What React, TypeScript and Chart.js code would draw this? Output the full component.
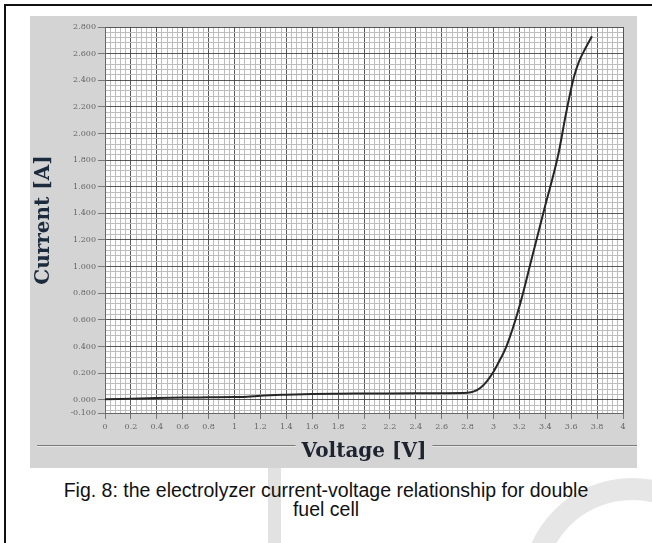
import React, { useEffect, useRef } from "react";
import { Chart, registerables } from "chart.js";

Chart.register(...registerables);

// ---- data ----
const voltage = [0, 0.2, 0.4, 0.6, 0.8, 1.0, 1.1, 1.2, 1.4, 1.6, 1.8, 2.0, 2.2, 2.4, 2.6, 2.8, 2.85, 2.9, 2.95, 3.0, 3.05, 3.1, 3.2, 3.3, 3.4, 3.5, 3.56, 3.62, 3.66, 3.71, 3.76];
const current = [0.003, 0.008, 0.013, 0.016, 0.018, 0.02, 0.022, 0.03, 0.038, 0.043, 0.045, 0.046, 0.047, 0.048, 0.049, 0.052, 0.062, 0.09, 0.14, 0.21, 0.30, 0.40, 0.70, 1.08, 1.46, 1.84, 2.15, 2.42, 2.54, 2.64, 2.73];

const xMajorTicks = [0, 0.2, 0.4, 0.6, 0.8, 1, 1.2, 1.4, 1.6, 1.8, 2, 2.2, 2.4, 2.6, 2.8, 3, 3.2, 3.4, 3.6, 3.8, 4];
const xTickLabels = ["0", "0.2", "0.4", "0.6", "0.8", "1", "1.2", "1.4", "1.6", "1.8", "2", "2.2", "2.4", "2.6", "2.8", "3", "3.2", "3.4", "3.6", "3.8", "4"];
const yMajorTicks = [-0.1, 0, 0.2, 0.4, 0.6, 0.8, 1.0, 1.2, 1.4, 1.6, 1.8, 2.0, 2.2, 2.4, 2.6, 2.8];
const yTickLabels = ["-0.100", "0.000", "0.200", "0.400", "0.600", "0.800", "1.000", "1.200", "1.400", "1.600", "1.800", "2.000", "2.200", "2.400", "2.600", "2.800"];
const minorDivisions = 5;

const X_MIN = 0, X_MAX = 4, Y_MIN = -0.1, Y_MAX = 2.8;

const r3 = (v: number) => Math.round(v * 1000) / 1000;

function buildTicks(majors: number[], lo: number, hi: number): number[] {
  const step = (majors[2] - majors[1]) / minorDivisions;
  const set = new Set<number>(majors.map(r3));
  const start = Math.ceil(lo / step - 1e-9);
  const end = Math.floor(hi / step + 1e-9);
  for (let i = start; i <= end; i++) set.add(r3(i * step));
  return Array.from(set).sort((a, b) => a - b);
}

const majorIndex = (majors: number[], v: number) => majors.findIndex((m) => Math.abs(m - v) < 1e-6);

const xAllTicks = buildTicks(xMajorTicks, X_MIN, X_MAX);
const yAllTicks = buildTicks(yMajorTicks, Y_MIN, Y_MAX);

const MAJOR_GRID = "rgba(60,60,60,0.85)";
const MINOR_GRID = "#bdbdbd";
const TICK_FONT = { family: "'DejaVu Serif', serif", size: 8 };
const TITLE_FONT = { family: "'DejaVu Serif', serif", size: 20, weight: "bold" };

export default function App() {
  const canvasRef = useRef<HTMLCanvasElement | null>(null);

  useEffect(() => {
    if (!canvasRef.current) return;

    const bgPlugin = {
      id: "plotBg",
      beforeDraw(chart: any) {
        const { ctx, chartArea } = chart;
        ctx.save();
        ctx.fillStyle = "#ffffff";
        ctx.fillRect(chartArea.left, chartArea.top, chartArea.right - chartArea.left, chartArea.bottom - chartArea.top);
        ctx.restore();
      },
      afterDraw(chart: any) {
        const { ctx, chartArea, width } = chart;
        const xs = chart.scales.x;
        const t = xs.options.title;
        ctx.save();
        ctx.font = `bold ${t.font.size}px ${t.font.family}`;
        const tw = ctx.measureText(t.text).width;
        const cx = (chartArea.left + chartArea.right) / 2;
        const y = 429.5;
        ctx.strokeStyle = "#7a7a7a";
        ctx.lineWidth = 1;
        ctx.beginPath();
        ctx.moveTo(7, y);
        ctx.lineTo(cx - tw / 2 - 6, y);
        ctx.moveTo(cx + tw / 2 + 6, y);
        ctx.lineTo(width, y);
        ctx.stroke();
        ctx.strokeStyle = "#e8e8e8";
        ctx.beginPath();
        ctx.moveTo(7, y + 1);
        ctx.lineTo(cx - tw / 2 - 6, y + 1);
        ctx.moveTo(cx + tw / 2 + 6, y + 1);
        ctx.lineTo(width, y + 1);
        ctx.stroke();
        ctx.restore();
      },
    };

    const chart = new Chart(canvasRef.current, {
      type: "line",
      data: {
        datasets: [
          {
            data: voltage.map((v, i) => ({ x: v, y: current[i] })),
            borderColor: "#262626",
            borderWidth: 2,
            pointRadius: 0,
            fill: false,
            cubicInterpolationMode: "monotone",
          },
        ],
      },
      options: {
        animation: false,
        responsive: true,
        maintainAspectRatio: false,
        layout: { padding: { left: 0, top: 11, right: 14, bottom: 0 } },
        plugins: { legend: { display: false }, tooltip: { enabled: false } },
        scales: {
          x: {
            type: "linear",
            min: X_MIN,
            max: X_MAX,
            afterBuildTicks: (scale: any) => {
              scale.ticks = xAllTicks.map((v) => ({ value: v }));
            },
            afterFit: (scale: any) => {
              scale.height = 55;
            },
            ticks: {
              autoSkip: false,
              maxRotation: 0,
              padding: 3,
              color: "#666",
              font: TICK_FONT,
              callback: (value: any) => {
                const i = majorIndex(xMajorTicks, Number(value));
                return i >= 0 ? xTickLabels[i] : "";
              },
            },
            grid: {
              drawTicks: true,
              tickLength: 6,
              color: (ctx: any) => (ctx.tick && majorIndex(xMajorTicks, ctx.tick.value) >= 0 ? MAJOR_GRID : MINOR_GRID),
              tickColor: (ctx: any) => (ctx.tick && majorIndex(xMajorTicks, ctx.tick.value) >= 0 ? "#777" : "rgba(0,0,0,0)"),
              lineWidth: 1,
            },
            border: { display: true, color: "#666" },
            title: {
              display: true,
              text: "Voltage [V]",
              color: "#1e2330",
              font: TITLE_FONT,
              padding: { top: 0, bottom: 4 },
            },
          },
          y: {
            type: "linear",
            min: Y_MIN,
            max: Y_MAX,
            afterBuildTicks: (scale: any) => {
              scale.ticks = yAllTicks.map((v) => ({ value: v }));
            },
            afterFit: (scale: any) => {
              scale.width = 75;
            },
            ticks: {
              autoSkip: false,
              padding: 2,
              color: "#666",
              font: TICK_FONT,
              callback: (value: any) => {
                const i = majorIndex(yMajorTicks, Number(value));
                return i >= 0 ? yTickLabels[i] : "";
              },
            },
            grid: {
              drawTicks: true,
              tickLength: 7,
              color: (ctx: any) => (ctx.tick && majorIndex(yMajorTicks, ctx.tick.value) >= 0 ? MAJOR_GRID : MINOR_GRID),
              tickColor: (ctx: any) => (ctx.tick && majorIndex(yMajorTicks, ctx.tick.value) >= 0 ? "#777" : "rgba(0,0,0,0)"),
              lineWidth: 1,
            },
            border: { display: true, color: "#666" },
            title: {
              display: true,
              text: "Current [A]",
              color: "#1b2a3c",
              font: TITLE_FONT,
              padding: { top: 2, bottom: 0 },
            },
          },
        },
      },
      plugins: [bgPlugin],
    } as any);

    return () => chart.destroy();
  }, []);

  return (
    <div
      style={{
        position: "absolute",
        left: 0,
        top: 0,
        width: 652,
        height: 543,
        background: "#ffffff",
        overflow: "hidden",
      }}
    >
      {/* watermark shapes */}
      <div style={{ position: "absolute", left: 268, top: 460, width: 13, height: 90, background: "#e2e2e2" }} />
      <div
        style={{
          position: "absolute",
          left: 522,
          top: 478,
          width: 220,
          height: 220,
          boxSizing: "border-box",
          border: "22px solid #e6e6e6",
          borderRadius: "50%",
        }}
      />
      {/* outer frame */}
      <div style={{ position: "absolute", left: 4, top: 4, right: 0, height: 2, background: "#111" }} />
      <div style={{ position: "absolute", left: 4, top: 4, width: 2, bottom: 0, background: "#111" }} />
      {/* graph panel */}
      <div style={{ position: "absolute", left: 30, top: 16, width: 607, height: 452, background: "#d4d4d4" }}>
        <canvas ref={canvasRef} />
      </div>
      {/* caption */}
      <div
        style={{
          position: "absolute",
          left: 0,
          top: 481,
          width: 652,
          textAlign: "center",
          fontFamily: "'Liberation Sans', Arial, sans-serif",
          fontSize: 19.5,
          lineHeight: "19px",
          color: "#111",
        }}
      >
        Fig. 8: the electrolyzer current-voltage relationship for double
        <br />
        fuel cell
      </div>
    </div>
  );
}
